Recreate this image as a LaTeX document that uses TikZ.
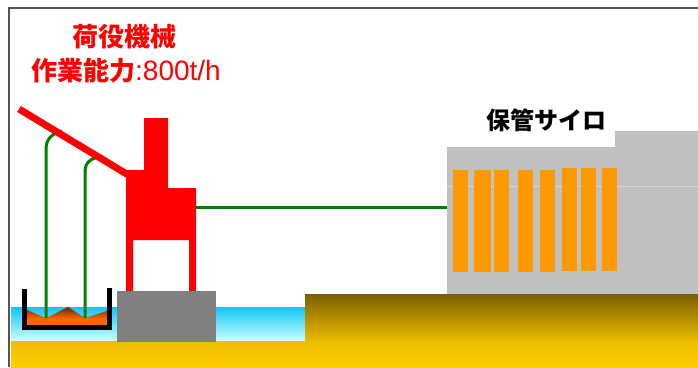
\documentclass[tikz,border=0pt]{standalone}
\usepackage{fontspec}
\newfontfamily\cjk{Noto Sans CJK JP}
\newfontfamily\lat{Liberation Sans}

\definecolor{craneRed}{HTML}{FF0000}
\definecolor{pipeGreen}{HTML}{008000}
\definecolor{quayGrey}{HTML}{808080}
\definecolor{siloGrey}{HTML}{C0C0C0}
\definecolor{binOrange}{HTML}{FF9900}
\definecolor{frameGrey}{HTML}{555555}
\definecolor{waterTop}{HTML}{10C6F6}
\definecolor{waterBot}{HTML}{CCFFFF}
\definecolor{soilTop}{HTML}{7A5F00}
\definecolor{soilMid}{HTML}{EDBE00}
\definecolor{soilGold}{HTML}{FFCC00}
\definecolor{oreOrange}{HTML}{FF6600}
\definecolor{oreBrown}{HTML}{5E2A00}

\tikzset{
  pipe/.style={draw=pipeGreen, line width=3pt},
  boom/.style={draw=craneRed, line width=7pt},
  bin/.style={fill=binOrange},
  frameline/.style={draw=frameGrey, line width=2pt},
  title/.style={text=craneRed, font=\cjk\bfseries\fontsize{26}{30}\selectfont, inner sep=0pt},
  silolabel/.style={text=black, font=\cjk\bfseries\fontsize{24}{28}\selectfont, inner sep=0pt},
}

\begin{document}
\begin{tikzpicture}[x=1pt, y=-1pt]
\useasboundingbox (0,0) rectangle (698,367);

% sea
\shade[top color=waterTop, bottom color=waterBot] (11,307) rectangle (305,341);

% low ground along the whole bottom
\shade[top color=soilMid, bottom color=soilGold] (11,341) rectangle (698,367);
% raised ground under the silo
\shade[top color=soilTop, bottom color=soilMid] (305,294) rectangle (698,342);

% quay block
\fill[quayGrey] (117,291) rectangle (216,342);

% cargo in the ship's hold
\shade[top color=oreBrown, bottom color=oreOrange, middle color=oreOrange!80!oreBrown]
  (27,310) -- (46,318) -- (68,307) -- (85,318) -- (107,311) -- (107,325) -- (27,325) -- cycle;
\fill[oreOrange] (27,318) rectangle (107,325);

% hold walls
\draw[line width=5pt] (24.5,289) -- (24.5,327.5) -- (109.5,327.5) -- (109.5,288);

% suction pipes hanging from the boom
\draw[pipe] (46,318) -- (46,150) .. controls (46,138) and (52,134) .. (62,131);
\draw[pipe] (85,318) -- (85,172) .. controls (85,161) and (92,158) .. (103,156);

% crane boom and body
\draw[boom] (19,109) -- (130,176);
\fill[craneRed] (126,170) -- (144,170) -- (144,118) -- (168,118) -- (168,188)
  -- (196,188) -- (196,291) -- (189,291) -- (189,240) -- (133,240)
  -- (133,291) -- (126,291) -- cycle;

% silo building
\fill[siloGrey] (447,147) rectangle (698,294);
\fill[siloGrey] (615,131) rectangle (698,147);
\draw[white, opacity=0.35, line width=0.6pt] (447,186) -- (698,186);

% storage bins
\fill[bin] (453.3,170) rectangle (468.3,272.3);
\fill[bin] (474.3,170) rectangle (490.7,272.3);
\fill[bin] (494,170) rectangle (509,272.3);
\fill[bin] (517.7,170) rectangle (533,272.3);
\fill[bin] (540,170) rectangle (555.3,272.3);
\fill[bin] (561.7,168.3) rectangle (576.7,270.7);
\fill[bin] (581,168.3) rectangle (596,270.7);
\fill[bin] (601.7,168.3) rectangle (617.3,270.7);

% belt conveyor from crane to silo
\coordinate (craneOut) at (196,207);
\coordinate (siloIn) at (447,207);
\draw[pipe] (craneOut) -- (siloIn);

% labels
\node[title] (craneName) at (124,37) {荷役機械};
\node[title] (craneRate) at (126,71) {作業能力{\lat\mdseries\fontsize{28}{30}\selectfont :800t/h}};
\node[silolabel] (siloName) at (546,120) {保管サイロ};

% frame
\draw[frameline] (9,367) -- (9,7.5) -- (698,7.5);
\end{tikzpicture}
\end{document}
